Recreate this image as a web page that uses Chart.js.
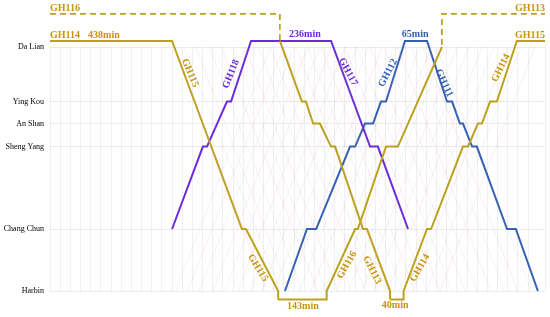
<!DOCTYPE html>
<html>
<head>
<meta charset="utf-8">
<script src="https://cdn.jsdelivr.net/npm/chart.js@4.4.1/dist/chart.umd.min.js"></script>
<style>
  html, body { margin: 0; padding: 0; background: #fff; }
  #wrap { width: 550px; height: 317px; }
</style>
</head>
<body>
<div id="wrap"><canvas id="diagram"></canvas></div>
<script>
// stations (km from Da Lian)
const stationNames = ['Da Lian', 'Ying Kou', 'An Shan', 'Sheng Yang', 'Chang Chun', 'Harbin'];
const stationKm = [0, 206, 289, 376, 687, 921];

// time axis in minutes after 0:00
const dayEnd = 1460;

// gold unit: GH114 waits 438min at Da Lian -> GH115 down -> 143min at Harbin -> GH116 up
const gh115Time = [0, 360, 566, 578, 673, 673];
const gh115Km = [-23, -23, 687, 687, 921, 953];
const gh116Time = [673, 816, 816, 900, 908, 991, 1026, 1156];
const gh116Km = [953, 953, 921, 687, 687, 376, 376, 0];
// overnight wrap (dashed)
const gh116WrapTime = [0, 678, 678];
const gh116WrapKm = [-125, -125, -23];
const gh113WrapTime = [1156, 1156, dayEnd];
const gh113WrapKm = [-8, -125, -125];
// GH113 down -> 40min at Harbin -> GH114 up
const gh113Time = [678, 743, 755, 776, 796, 829, 841, 923, 935, 1003, 1003];
const gh113Km = [-23, 206, 206, 289, 289, 376, 376, 687, 687, 921, 953];
const gh114Time = [1003, 1043, 1043, 1112, 1124, 1218, 1233, 1262, 1274, 1298, 1318, 1377, dayEnd];
const gh114Km = [953, 953, 921, 687, 687, 376, 376, 289, 289, 206, 206, -23, -23];

// purple unit: GH118 up -> 236min at Da Lian -> GH117 down
const gh118Time = [360, 451, 463, 522, 534, 593, 829, 944, 967, 1056];
const gh118Km = [687, 376, 376, 206, 206, -23, -23, 376, 376, 687];

// blue unit: GH112 up -> 65min at Da Lian -> GH111 down
const gh112Time = [693, 758, 785, 885, 900, 929, 953, 976, 991, 1047, 1112, 1171, 1186, 1209, 1218, 1245, 1259, 1348, 1374, 1439];
const gh112Km = [921, 687, 687, 376, 376, 289, 289, 206, 206, -23, -23, 206, 206, 289, 289, 376, 376, 687, 687, 921];

// faint background trains (Da Lian -> Harbin and Harbin -> Da Lian)
const bgDownStart = [365, 395, 430, 470, 505, 540, 575, 615, 650, 690, 725, 760, 800, 835, 870, 905, 945, 985, 1025, 1065, 1100, 1140];
const bgDownEnd = [640, 680, 705, 745, 790, 815, 850, 890, 930, 965, 1000, 1040, 1075, 1110, 1150, 1185, 1225, 1260, 1300, 1340, 1380, 1420];
const bgUpStart = [370, 405, 440, 480, 515, 555, 590, 625, 660, 700, 735, 770, 810, 845, 880, 920, 955, 995, 1030, 1070, 1110, 1150];
const bgUpEnd = [650, 690, 720, 760, 795, 830, 870, 905, 940, 980, 1015, 1050, 1090, 1125, 1165, 1200, 1235, 1275, 1310, 1350, 1390, 1430];

// annotations
const labelText = ['GH116', 'GH114', '438min', '236min', '65min', 'GH113', 'GH115',
  'GH115', 'GH118', 'GH117', 'GH112', 'GH111', 'GH114',
  'GH115', 'GH116', 'GH113', 'GH114', '143min', '40min'];
const labelTime = [0, 0, 159, 752, 1077, dayEnd, dayEnd,
  413, 534, 879, 997, 1162, 1330,
  613, 876, 950, 1091, 746, 1018];
const labelKm = [-147, -45, -45, -49, -49, -147, -45,
  98, 102, 94, 98, 136, 79,
  834, 823, 842, 834, 981, 974];
const labelAngle = [0, 0, 0, 0, 0, 0, 0,
  67, -68, 62, -62, 65, -63,
  58, -60, 63, -60, 0, 0];

const gold = '#bca21c';
const goldText = '#c8940c';
const purple = '#6a2bdb';
const blue = '#3461b5';
const labelColor = [goldText, goldText, goldText, purple, blue, goldText, goldText,
  goldText, purple, purple, blue, blue, goldText,
  goldText, goldText, goldText, goldText, goldText, goldText];
const labelAlign = ['left', 'left', 'center', 'center', 'center', 'right', 'right',
  'center', 'center', 'center', 'center', 'center', 'center',
  'center', 'center', 'center', 'center', 'center', 'center'];

function path(times, kms) {
  return times.map((t, i) => ({ x: t, y: kms[i] }));
}

function line(times, kms, color, width, dash) {
  return {
    data: path(times, kms),
    borderColor: color,
    borderWidth: width,
    borderDash: dash || [],
    pointRadius: 0,
    tension: 0,
    fill: false,
    clip: false,
  };
}

const datasets = [];
bgDownStart.forEach((t, i) => {
  datasets.push(line([t, bgDownEnd[i]], [0, 921], i % 2 ? 'rgba(150,150,150,0.18)' : 'rgba(230,140,175,0.26)', 0.6));
});
bgUpStart.forEach((t, i) => {
  datasets.push(line([t, bgUpEnd[i]], [921, 0], i % 2 ? 'rgba(230,140,175,0.26)' : 'rgba(150,150,150,0.18)', 0.6));
});
datasets.push(line(gh116WrapTime, gh116WrapKm, gold, 1.7, [6, 4]));
datasets.push(line(gh113WrapTime, gh113WrapKm, gold, 1.7, [6, 4]));
datasets.push(line(gh115Time, gh115Km, gold, 2));
datasets.push(line(gh116Time, gh116Km, gold, 2));
datasets.push(line(gh113Time, gh113Km, gold, 2));
datasets.push(line(gh114Time, gh114Km, gold, 2));
datasets.push(line(gh118Time, gh118Km, purple, 2));
datasets.push(line(gh112Time, gh112Km, blue, 2));

const textPlugin = {
  id: 'trainTexts',
  afterDatasetsDraw(chart) {
    const { ctx, scales: { x, y } } = chart;
    labelText.forEach((txt, i) => {
      ctx.save();
      ctx.translate(x.getPixelForValue(labelTime[i]), y.getPixelForValue(labelKm[i]));
      ctx.rotate(labelAngle[i] * Math.PI / 180);
      ctx.font = 'bold 10px "Liberation Serif"';
      ctx.fillStyle = labelColor[i];
      ctx.textAlign = labelAlign[i];
      ctx.textBaseline = 'middle';
      ctx.fillText(txt, 0, 0);
      ctx.restore();
    });
  }
};

new Chart(document.getElementById('diagram'), {
  type: 'line',
  data: { datasets: datasets },
  options: {
    responsive: true,
    maintainAspectRatio: false,
    animation: false,
    layout: { padding: { top: 47, bottom: 26, left: 0, right: 5 } },
    plugins: { legend: { display: false }, tooltip: { enabled: false } },
    scales: {
      x: {
        type: 'linear',
        min: 0,
        max: dayEnd,
        ticks: { display: false, stepSize: 30 },
        grid: { color: 'rgba(0,0,0,0.06)', drawTicks: false },
        border: { display: false },
        afterFit(axis) { axis.height = 0; }
      },
      y: {
        type: 'linear',
        reverse: true,
        min: 0,
        max: 921,
        afterBuildTicks(axis) { axis.ticks = stationKm.map(v => ({ value: v })); },
        afterFit(axis) { axis.width = 50; },
        ticks: {
          padding: 6,
          color: '#000',
          font: { family: 'Liberation Serif', size: 8 },
          callback: (value, index) => stationNames[index]
        },
        grid: { color: 'rgba(0,0,0,0.08)', drawTicks: false },
        border: { display: false }
      }
    }
  },
  plugins: [textPlugin]
});
</script>
</body>
</html>
